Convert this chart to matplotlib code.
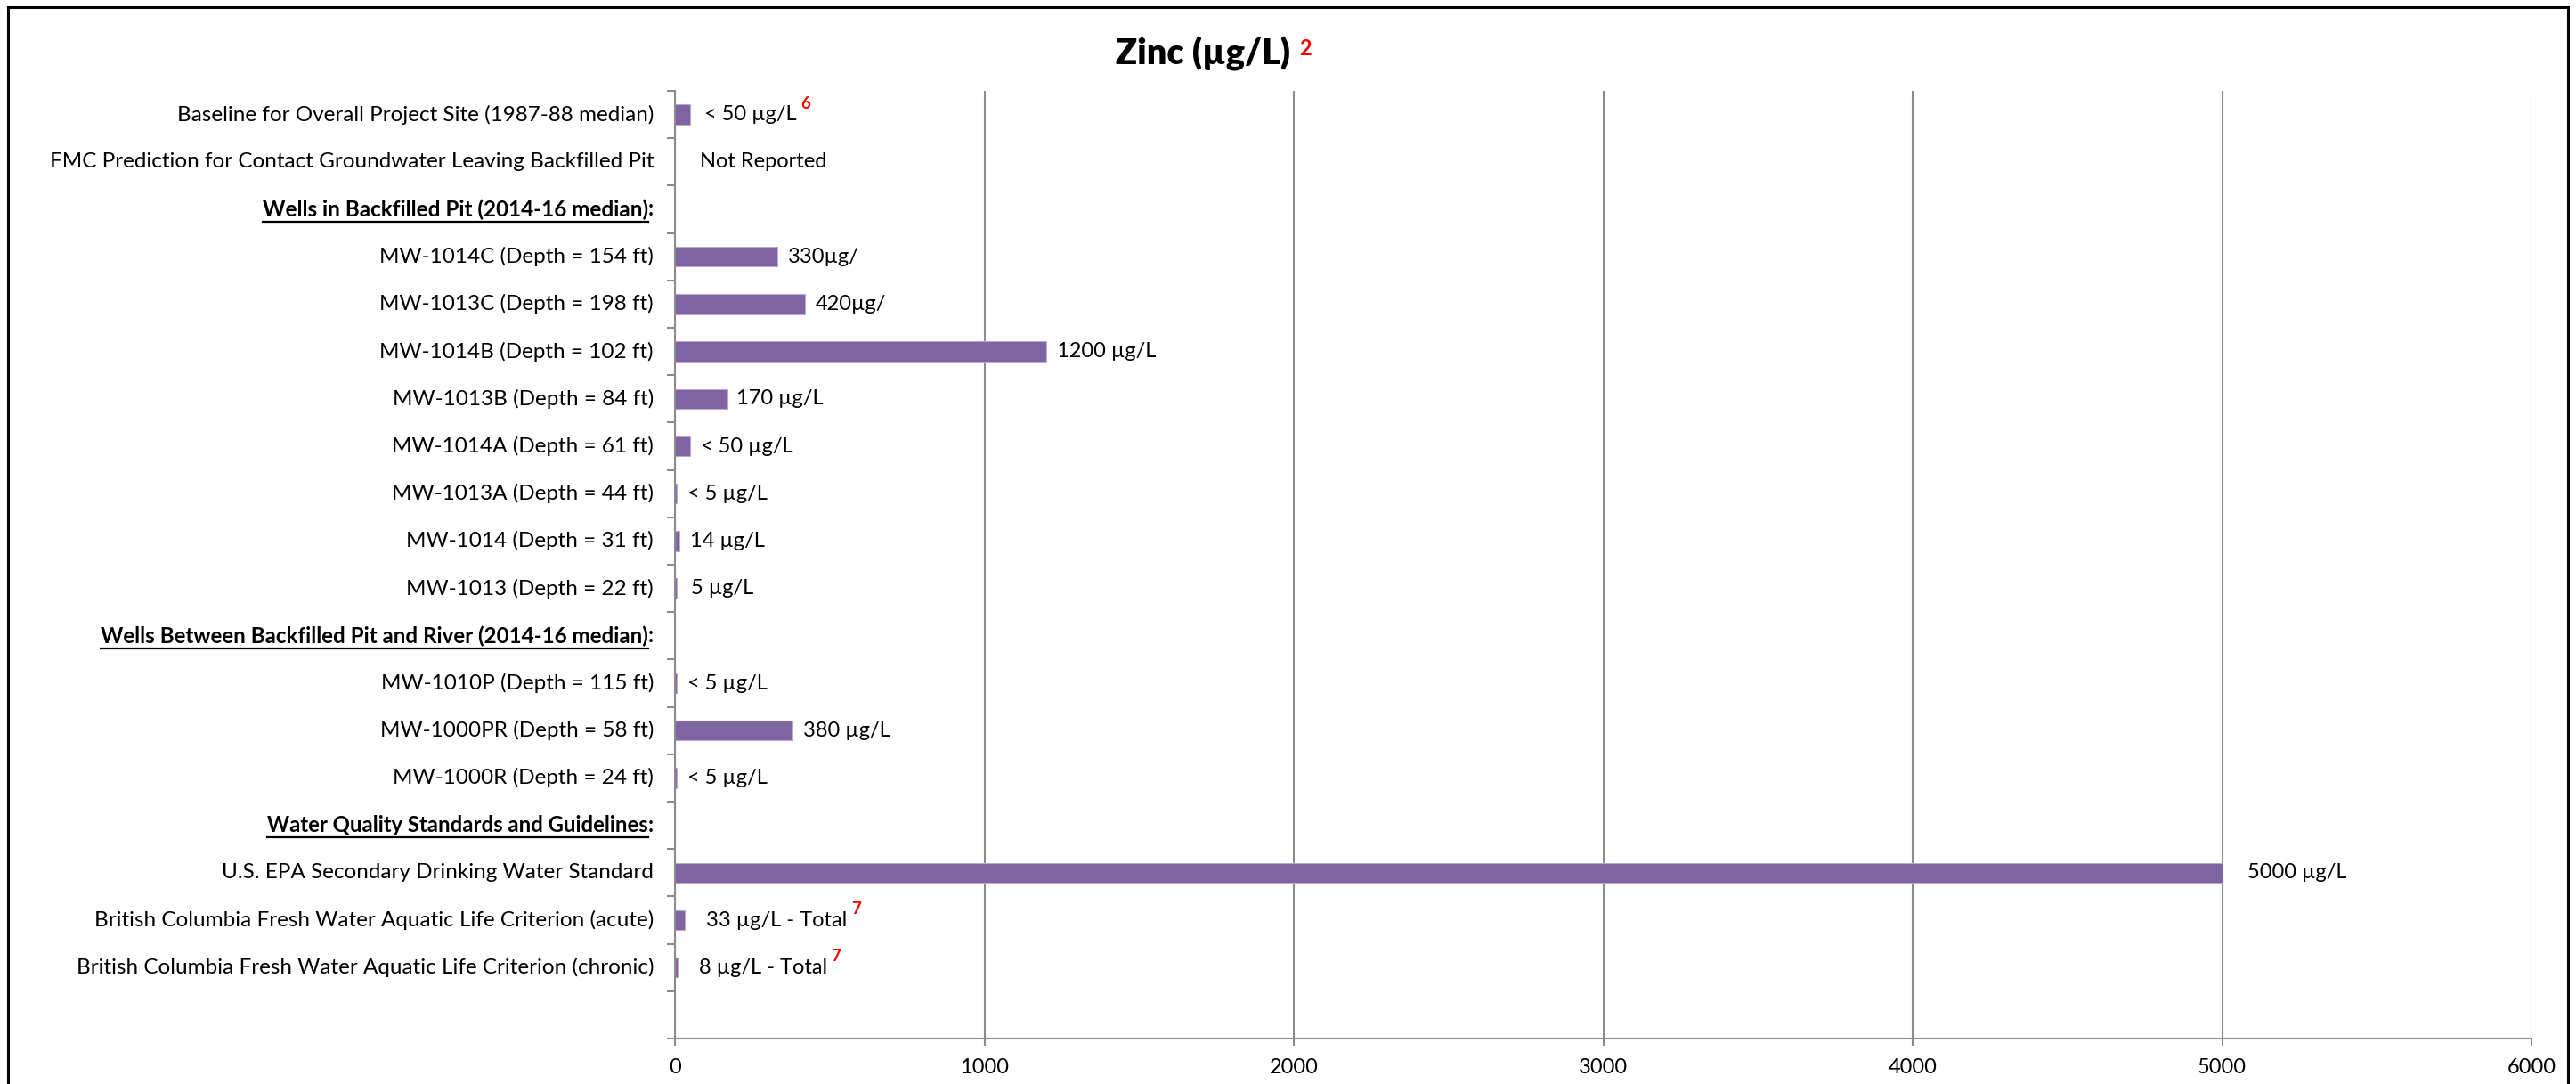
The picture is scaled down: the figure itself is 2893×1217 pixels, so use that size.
import matplotlib
matplotlib.use("Agg")
import matplotlib.pyplot as plt
import numpy as np
from matplotlib.lines import Line2D

# ---------------- data ----------------
categories = [
    "Baseline for Overall Project Site (1987-88 median)",
    "FMC Prediction for Contact Groundwater Leaving Backfilled Pit",
    "Wells in Backfilled Pit (2014-16 median)",
    "MW-1014C (Depth = 154 ft)",
    "MW-1013C (Depth = 198 ft)",
    "MW-1014B (Depth = 102 ft)",
    "MW-1013B (Depth = 84 ft)",
    "MW-1014A (Depth = 61 ft)",
    "MW-1013A (Depth = 44 ft)",
    "MW-1014 (Depth = 31 ft)",
    "MW-1013 (Depth = 22 ft)",
    "Wells Between Backfilled Pit and River (2014-16 median)",
    "MW-1010P (Depth = 115 ft)",
    "MW-1000PR (Depth = 58 ft)",
    "MW-1000R (Depth = 24 ft)",
    "Water Quality Standards and Guidelines",
    "U.S. EPA Secondary Drinking Water Standard",
    "British Columbia Fresh Water Aquatic Life Criterion (acute)",
    "British Columbia Fresh Water Aquatic Life Criterion (chronic)",
    "",
]
is_header = [False, False, True, False, False, False, False, False, False, False,
             False, True, False, False, False, True, False, False, False, False]
values = [50, 0, np.nan, 330, 420, 1200, 170, 50, 5, 14, 5, np.nan,
          5, 380, 5, np.nan, 5000, 33, 8, np.nan]
bar_labels = ["< 50 µg/L", "Not Reported", "", "330µg/", "420µg/", "1200 µg/L",
              "170 µg/L", "< 50 µg/L", "< 5 µg/L", "14 µg/L", "5 µg/L", "",
              "< 5 µg/L", "380 µg/L", "< 5 µg/L", "", "5000 µg/L",
              "33 µg/L - Total", "8 µg/L - Total", ""]
footnotes = ["6", "", "", "", "", "", "", "", "", "", "", "", "", "", "", "", "",
             "7", "7", ""]
x_ticks = [0, 1000, 2000, 3000, 4000, 5000, 6000]
title = "Zinc (µg/L)"
title_note = "2"

# ---------------- style ----------------
W, H, DPI = 2893, 1217, 100
BAR = "#8064A2"
GRID = "#8C8C8C"
label_font = ["Lato", "DejaVu Sans"]
value_font = ["Lato", "DejaVu Sans"]
label_pad_px = [16, 28, 0, 12, 12, 12, 10, 12, 12, 12, 16, 0, 12, 12, 12, 0, 28, 24, 24, 0]
header_width_px = {2: 438, 11: 621, 15: 435}
title_width_px = 196

fig = plt.figure(figsize=(W / DPI, H / DPI), dpi=DPI)
fig.patch.set_facecolor("white")
L, R, B, T = 758, 2843, 1166, 102
ax = fig.add_axes([L / W, 1 - B / H, (R - L) / W, (B - T) / H])

y = np.arange(len(categories))
vals = np.array(values, dtype=float)
ax.barh(y, np.nan_to_num(vals), height=0.42, color=BAR, edgecolor="#B9A9CF",
        linewidth=0.8, zorder=3)

ax.set_xlim(0, 6000)
ax.set_ylim(len(categories) - 0.5, -0.5)
ax.set_xticks(x_ticks)
ax.set_xticklabels([str(t) for t in x_ticks], fontfamily=value_font, fontsize=17)
ax.tick_params(axis="x", direction="out", length=6, width=1.5, color=GRID, pad=10)
ax.set_yticks([])
ax.set_yticks(np.arange(-0.5, len(categories)), minor=True)
ax.tick_params(axis="y", which="minor", direction="out", length=6.5, width=1.5, color=GRID)
ax.xaxis.grid(True, color=GRID, linewidth=1.5, zorder=0)
ax.set_axisbelow(True)
for s in ["top", "right"]:
    ax.spines[s].set_visible(False)
for s in ["left", "bottom"]:
    ax.spines[s].set_color(GRID)
    ax.spines[s].set_linewidth(1.5)
    ax.spines[s].set_zorder(4)

fig.canvas.draw()
renderer = fig.canvas.get_renderer()


def width(t):
    return t.get_window_extent(renderer).width


# category labels
for i, (cat, hdr) in enumerate(zip(categories, is_header)):
    if not cat:
        continue
    if hdr:
        colon = ax.annotate(":", xy=(0, i), xycoords=("axes fraction", "data"),
                            xytext=(-24, 0), textcoords="offset pixels",
                            ha="right", va="center", fontsize=16,
                            fontfamily=label_font, fontweight="bold")
        t = ax.annotate(cat, xy=(0, i), xycoords=("axes fraction", "data"),
                        xytext=(-24, 0), textcoords="offset pixels",
                        ha="right", va="center", fontsize=16,
                        fontfamily=label_font, fontweight="bold")
        for _ in range(2):
            cw = width(colon)
            t.set_fontsize(t.get_fontsize() * (header_width_px[i] - cw) / width(t))
            colon.set_fontsize(t.get_fontsize())
        cw = width(colon)
        t.xyann = (-24 - cw, 0)
        bb = t.get_window_extent(renderer)
        yl = (bb.y0 - 2) / H
        fig.add_artist(Line2D([bb.x0 / W, bb.x1 / W], [yl, yl], color="black",
                              linewidth=1.6, transform=fig.transFigure))
    else:
        ax.annotate(cat, xy=(0, i), xycoords=("axes fraction", "data"),
                    xytext=(-24, 0), textcoords="offset pixels",
                    ha="right", va="center", fontsize=17.5, fontfamily=label_font)

# value labels
for i, (v, lab, fn) in enumerate(zip(vals, bar_labels, footnotes)):
    if not lab:
        continue
    t = ax.annotate(lab, xy=(np.nan_to_num(v), i), xycoords="data",
                    xytext=(label_pad_px[i], 0), textcoords="offset pixels",
                    ha="left", va="center", fontsize=17, fontfamily=value_font)
    if fn:
        ax.annotate(fn, xy=(1, 0.68), xycoords=t, xytext=(4, 0),
                    textcoords="offset pixels", ha="left", va="bottom",
                    fontsize=13.5, color="#FF0000", fontweight="bold",
                    fontfamily=value_font)

# title
tt = fig.text(1351 / W, 1 - 73 / H, title, ha="center", va="baseline",
              fontsize=30, fontweight="heavy", fontfamily=value_font)
tt.set_fontsize(30 * title_width_px / width(tt))
plt.annotate(title_note, xy=(1, 0.97), xycoords=tt, xytext=(10, 0),
             textcoords="offset pixels", ha="left", va="top",
             fontsize=17, color="#FF0000", fontweight="bold",
             fontfamily=value_font)

# outer frame
for xs, ys in [([9, 9], [0, 1209]), ([9, 2884], [1209, 1209]), ([2884, 2884], [1209, 0])]:
    fig.add_artist(Line2D([x / W for x in xs], [yy / H for yy in ys], color="black",
                          linewidth=2.2, transform=fig.transFigure))

fig.savefig("out.png", dpi=DPI, facecolor="white")
